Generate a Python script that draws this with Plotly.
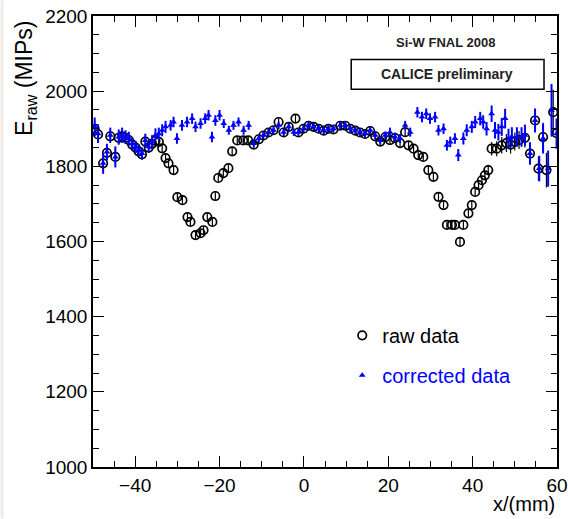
import plotly.graph_objects as go

# ---- data ----
x_corr = [-49.6, -48.8, -47.6, -46.7, -45.9, -44.7, -43.9, -43.1, -42.3, -41.5,
          -40.7, -39.9, -39.2, -38.4, -37.6, -36.8, -36.0, -35.2, -34.4, -33.6,
          -32.8, -31.6, -30.9, -30.1, -28.9, -27.7, -26.5, -25.7, -24.5, -23.4,
          -22.6, -21.8, -21.0, -20.0, -19.0, -17.8, -16.7, -15.5, -14.3, -13.1,
          -11.9, -10.7, -9.6, -8.4, -7.2, -6.0, -4.8, -3.6, -2.4, -1.3,
          -0.1, 1.1, 2.3, 3.5, 4.7, 5.8, 7.0, 8.6, 9.8, 11.0,
          12.2, 13.3, 14.5, 15.7, 16.9, 18.1, 19.3, 20.4, 21.6, 22.8,
          24.0, 25.2, 26.9, 28.0, 29.0, 29.9, 31.1, 31.9, 33.1, 33.9,
          34.7, 35.8, 36.6, 37.8, 38.6, 39.8, 40.6, 41.8, 42.5, 43.3,
          44.5, 45.3, 46.1, 46.9, 47.7, 48.5, 49.3, 50.5, 51.6, 52.4,
          53.6, 54.8, 55.8, 56.7, 57.9, 58.7, 59.9]
e_corr = [1905, 1887, 1808, 1838, 1883, 1825, 1878, 1883, 1878, 1874,
          1860, 1852, 1843, 1834, 1869, 1852, 1865, 1883, 1887, 1896,
          1905, 1909, 1918, 1874, 1909, 1918, 1927, 1905, 1914, 1927,
          1936, 1878, 1922, 1936, 1914, 1896, 1909, 1918, 1896, 1909,
          1861, 1874, 1883, 1891, 1896, 1909, 1891, 1905, 1891, 1891,
          1900, 1909, 1905, 1900, 1896, 1900, 1900, 1909, 1909, 1900,
          1896, 1891, 1887, 1896, 1883, 1869, 1883, 1891, 1878, 1874,
          1909, 1891, 1944, 1931, 1940, 1927, 1931, 1896, 1900, 1856,
          1865, 1874, 1830, 1874, 1896, 1905, 1918, 1927, 1918, 1900,
          1940, 1896, 1891, 1905, 1927, 1874, 1878, 1878, 1878, 1883,
          1834, 1922, 1794, 1874, 1794, 1949, 1887]
err_corr = [25, 25, 28, 22, 20, 28, 20, 20, 18, 18,
            18, 16, 16, 16, 18, 16, 18, 18, 16, 16,
            16, 14, 14, 14, 14, 14, 14, 14, 14, 14,
            14, 14, 14, 14, 12, 12, 12, 12, 12, 12,
            10, 10, 10, 10, 10, 10, 10, 10, 10, 10,
            10, 10, 10, 10, 10, 10, 10, 10, 10, 10,
            10, 10, 10, 10, 10, 10, 10, 12, 12, 12,
            12, 12, 14, 14, 14, 14, 14, 14, 14, 14,
            14, 14, 16, 16, 16, 16, 16, 18, 18, 18,
            22, 22, 22, 24, 26, 26, 26, 26, 26, 28,
            30, 32, 34, 40, 48, 70, 40]

x_raw = [-49.6, -48.8, -47.6, -46.7, -45.9, -44.7, -43.9, -43.1, -42.3, -41.5,
         -40.7, -39.9, -39.2, -38.4, -37.6, -36.8, -36.0, -35.2, -34.4, -33.6,
         -32.8, -32.1, -30.9, -30.0, -28.8, -27.6, -26.9, -25.7, -24.5, -23.8,
         -22.9, -21.7, -21.0, -20.3, -19.1, -17.9, -17.0, -15.8, -14.4, -13.2,
         -11.9, -10.7, -9.6, -8.4, -7.2, -6.0, -4.8, -3.6, -2.0, -1.3,
         -0.1, 1.1, 2.3, 3.5, 4.7, 5.8, 7.0, 8.6, 9.8, 11.0,
         12.2, 13.3, 14.5, 15.7, 16.9, 18.1, 19.3, 20.4, 21.6, 22.8,
         24.0, 24.8, 26.0, 27.1, 28.3, 29.5, 30.7, 31.9, 33.1, 33.9,
         35.1, 35.8, 37.0, 37.8, 39.0, 39.8, 40.6, 41.4, 42.2, 42.9,
         43.7, 44.5, 45.7, 46.9, 48.0, 49.0, 50.0, 51.0, 52.4, 53.6,
         54.8, 55.6, 56.7, 57.5, 59.1, 59.9]
e_raw = [1900, 1885, 1808, 1836, 1880, 1825, 1876, 1880, 1876, 1870,
         1858, 1850, 1840, 1832, 1866, 1850, 1860, 1868, 1865, 1848,
         1822, 1808, 1790, 1718, 1710, 1665, 1652, 1617, 1622, 1630,
         1665, 1652, 1721, 1769, 1782, 1795, 1840, 1869, 1869, 1869,
         1858, 1872, 1882, 1890, 1896, 1918, 1890, 1905, 1927, 1890,
         1900, 1908, 1905, 1900, 1895, 1900, 1898, 1908, 1908, 1900,
         1895, 1890, 1886, 1894, 1880, 1866, 1878, 1870, 1875, 1862,
         1891, 1856, 1847, 1830, 1825, 1790, 1772, 1719, 1697, 1644,
         1644, 1644, 1599, 1644, 1675, 1697, 1732, 1750, 1763, 1776,
         1790, 1847, 1847, 1856, 1862, 1858, 1866, 1870, 1876, 1834,
         1922, 1794, 1878, 1790, 1944, 1888]
err_raw = [20, 20, 24, 20, 18, 24, 18, 18, 16, 16,
           16, 14, 14, 14, 16, 14, 16, 16, 14, 12,
           10, 10, 10, 10, 10, 10, 10, 10, 10, 10,
           10, 10, 10, 10, 10, 10, 10, 10, 10, 10,
           10, 10, 10, 10, 10, 10, 10, 10, 10, 10,
           10, 10, 10, 10, 10, 10, 10, 10, 10, 10,
           10, 10, 10, 10, 10, 10, 10, 10, 10, 10,
           10, 10, 10, 10, 10, 10, 10, 10, 10, 10,
           10, 10, 10, 10, 10, 10, 10, 12, 12, 12,
           14, 18, 20, 22, 24, 24, 24, 24, 26, 28,
           30, 32, 38, 46, 60, 38]

x_range = [-50, 60]
y_range = [1000, 2200]

FONT = "Liberation Sans, Arial, Helvetica, sans-serif"

fig = go.Figure()

fig.add_trace(go.Scatter(
    x=x_raw, y=e_raw, mode="markers", name="raw data", legendgroup="raw",
    marker=dict(symbol="circle-open", size=8.5, color="black",
                line=dict(width=1.7, color="black")),
    error_y=dict(type="data", array=err_raw, color="black", thickness=1.2, width=0),
))
fig.add_trace(go.Scatter(
    x=x_corr, y=e_corr, mode="markers",
    name='<span style="color:#0000ff">corrected data</span>', legendgroup="corr",
    marker=dict(symbol="triangle-up", size=6, color="#0000ff"),
    error_y=dict(type="data", array=err_corr, color="#0000ff", thickness=2, width=0),
))

axis_common = dict(
    showgrid=False, zeroline=False, showline=True, linecolor="black", linewidth=1.5,
    mirror="allticks", ticks="inside", ticklen=11, tickwidth=1.3, tickcolor="black",
    tickfont=dict(family=FONT, size=19, color="black"), automargin=False,
)
fig.update_xaxes(range=x_range, dtick=20, tick0=0,
                 minor=dict(dtick=5, ticks="inside", ticklen=6, tickwidth=1.1, tickcolor="black"),
                 **axis_common)
fig.update_yaxes(range=y_range, dtick=200, tick0=0,
                 minor=dict(dtick=50, ticks="inside", ticklen=6, tickwidth=1.1, tickcolor="black"),
                 **axis_common)

L, R, T, B = 92.5, 11, 15.5, 51.5
W, H = 568, 519
pw, ph = W - L - R, H - T - B

def px(xp):
    return (xp - L) / pw

def py(yp):
    return (H - B - yp) / ph

fig.update_layout(
    width=W, height=H,
    margin=dict(l=L, r=R, t=T, b=B, pad=0, autoexpand=False),
    paper_bgcolor="white", plot_bgcolor="white",
    font=dict(family=FONT, color="black"),
    showlegend=True,
    legend=dict(x=px(342), y=py(316), xanchor="left", yanchor="top",
                bgcolor="rgba(0,0,0,0)", font=dict(family=FONT, size=20, color="black"),
                tracegroupgap=11, itemsizing="trace"),
    shapes=[
        dict(type="rect", xref="paper", yref="paper",
             x0=px(351), x1=px(544), y0=py(89), y1=py(59),
             line=dict(color="black", width=1.5), fillcolor="white", layer="above"),
        dict(type="rect", xref="paper", yref="paper",
             x0=px(0), x1=px(3), y0=py(H), y1=py(0),
             line=dict(width=0), fillcolor="#efebe6", layer="below"),
    ],
    annotations=[
        dict(text="<b>Si-W FNAL 2008</b>", xref="paper", yref="paper", x=px(445), y=py(42),
             showarrow=False, font=dict(family=FONT, size=13, color="#222222"),
             xanchor="center", yanchor="middle"),
        dict(text="<b>CALICE preliminary</b>", xref="paper", yref="paper", x=px(447), y=py(74),
             showarrow=False, font=dict(family=FONT, size=14, color="#222222"),
             xanchor="center", yanchor="middle"),
        dict(text="E<sub>raw</sub> (MIPs)", xref="paper", yref="paper", x=px(25), y=py(78),
             showarrow=False, textangle=-90, font=dict(family=FONT, size=23, color="black"),
             xanchor="center", yanchor="middle"),
        dict(text="x/(mm)", xref="paper", yref="paper", x=px(557), y=py(518),
             showarrow=False, font=dict(family=FONT, size=20, color="black"),
             xanchor="right", yanchor="bottom"),
    ],
)

fig.write_html("out.html")
